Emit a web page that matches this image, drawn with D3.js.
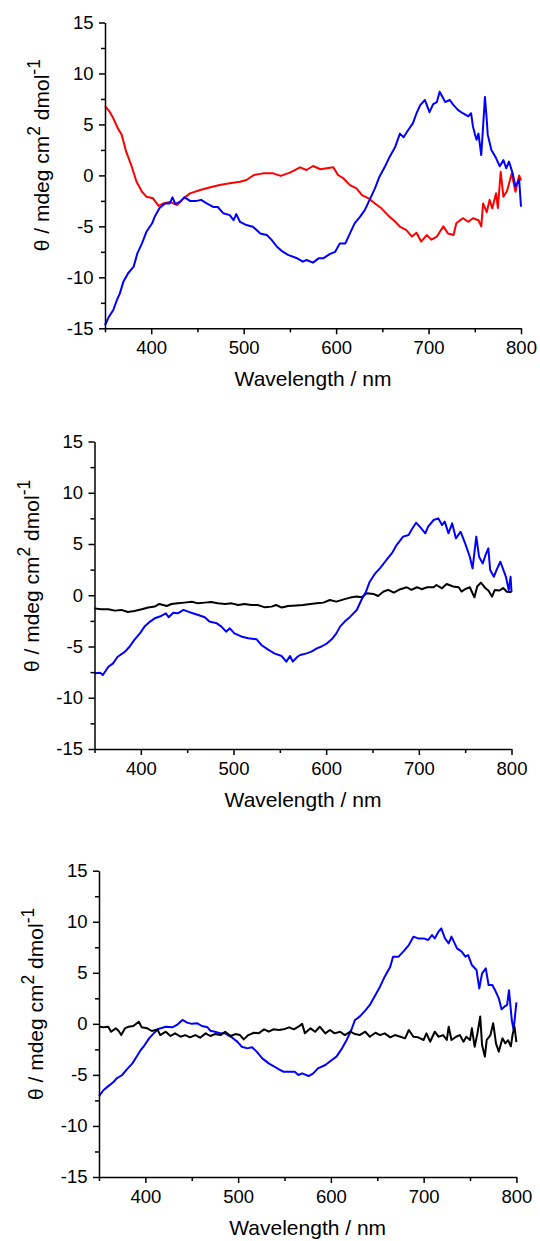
<!DOCTYPE html>
<html><head><meta charset="utf-8">
<script src="https://cdn.jsdelivr.net/npm/d3@7"></script>
<style>body{margin:0;background:#fff}svg{display:block}</style>
</head><body><svg id="c" width="540" height="1241"></svg>
<script>
// ---------- data ----------
const p1RedWl = [350,355,359,364,368,373,379,384,390,395,402,408,413,420,428,435,442,453,464,474,485,496,503,511,521,532,540,550,561,568,575,583,590,597,602,608,615,622,628,635,642,649,656,664,669,676,682,687,692,698,703,709,716,721,727,730,737,743,748,754,757,759,763,766,769,773,775,778,781,785,790,794,798,800];
const p1RedVal = [6.8,6.25,5.6,4.6,4.0,2.3,0.85,-0.6,-1.6,-2.1,-2.25,-3.0,-2.75,-2.6,-2.9,-2.25,-1.76,-1.43,-1.17,-0.95,-0.78,-0.62,-0.45,0.04,0.2,0.2,-0.05,0.27,0.79,0.53,0.92,0.6,0.7,0.79,0.04,-0.3,-0.95,-1.27,-1.93,-2.25,-2.75,-3.23,-3.9,-4.55,-5.03,-5.36,-6.0,-5.62,-6.5,-5.85,-6.3,-6.0,-5.0,-5.7,-5.85,-4.7,-4.2,-4.55,-4.2,-4.4,-5.0,-2.75,-3.6,-2.4,-3.23,-1.76,-3.2,0.36,-2.1,-1.5,0.2,-1.6,0.0,-0.5];

const p1BlueWl = [350,354,359,363,366,370,375,381,385,390,395,401,404,409,415,420,423,426,431,436,442,449,454,460,467,472,478,485,489,492,496,503,510,518,525,530,536,541,548,557,564,568,575,581,586,593,599,604,610,615,620,626,631,637,642,647,653,658,664,669,673,678,683,687,691,696,701,705,709,712,718,723,727,732,737,743,746,748,750,752,754,757,759,761,763,764,768,773,777,781,784,787,791,794,798,800];
const p1BlueVal = [-14.7,-13.9,-13.2,-12.2,-11.6,-10.4,-9.6,-8.95,-7.65,-6.67,-5.5,-4.7,-4.0,-3.2,-2.75,-2.75,-2.15,-2.8,-2.6,-2.15,-2.5,-2.5,-2.4,-2.75,-3.1,-3.1,-3.72,-3.9,-4.4,-3.8,-4.55,-4.87,-5.03,-5.7,-5.85,-6.3,-7.0,-7.4,-7.8,-8.1,-8.46,-8.3,-8.56,-8.14,-8.14,-7.72,-7.5,-6.67,-6.67,-5.69,-4.7,-4.05,-3.4,-2.25,-1.27,-0.1,0.9,1.84,2.82,4.1,3.74,4.45,5.1,6.1,6.9,7.4,6.2,7.0,7.2,8.2,7.2,7.4,6.9,6.4,6.1,5.8,6.1,4.8,4.1,3.5,4.1,2.0,4.8,7.7,5.4,4.0,2.5,1.7,0.9,1.5,0.7,1.35,0.2,-1.1,-0.4,-3.07];

const p2BlackWl = [350,357,365,372,379,386,393,401,408,415,420,428,433,440,447,455,462,469,476,483,491,498,505,512,519,526,534,541,546,552,559,568,575,583,590,597,604,611,619,626,633,638,644,651,656,662,667,673,680,687,692,698,703,709,716,719,725,730,737,743,746,750,755,760,763,767,772,775,779,782,787,791,795,800];
const p2BlackVal = [-1.28,-1.37,-1.37,-1.5,-1.43,-1.63,-1.53,-1.37,-1.2,-1.1,-0.85,-1.05,-0.85,-0.79,-0.72,-0.63,-0.79,-0.72,-0.66,-0.79,-0.85,-0.79,-0.95,-0.85,-0.95,-0.95,-1.18,-1.11,-0.95,-1.2,-1.05,-1.0,-0.95,-0.85,-0.79,-0.72,-0.46,-0.62,-0.4,-0.23,-0.13,-0.2,0.2,0.13,-0.07,0.36,0.52,0.26,0.59,0.78,0.52,0.78,0.59,0.78,0.78,1.0,0.68,1.1,0.85,0.78,0.36,0.59,0.78,-0.2,0.85,1.23,0.68,0.46,-0.13,0.52,0.46,0.7,0.35,0.3];

const p2BlueWl = [350,356,359,365,370,375,383,388,393,399,404,410,415,422,427,430,435,440,446,451,456,462,469,474,482,487,492,496,501,509,516,525,530,537,544,552,557,561,564,569,572,579,584,590,595,601,606,611,615,620,626,633,638,643,647,653,658,665,671,676,683,689,692,697,701,707,710,716,721,725,728,732,736,740,745,750,755,758,762,765,769,772,775,777,781,784,788,794,797,799,800];
const p2BlueVal = [-7.6,-7.55,-7.78,-6.97,-6.65,-6.0,-5.5,-5.0,-4.36,-3.72,-3.06,-2.57,-2.25,-2.02,-1.76,-2.15,-1.7,-1.76,-1.43,-1.6,-1.76,-1.93,-2.15,-2.57,-2.74,-3.06,-3.55,-3.23,-3.72,-4.04,-4.2,-4.3,-4.85,-5.28,-5.67,-5.93,-6.48,-5.93,-6.48,-6.0,-5.83,-5.67,-5.5,-5.18,-5.0,-4.69,-4.3,-3.72,-3.06,-2.57,-2.09,-1.44,-0.46,0.35,1.32,2.14,2.62,3.44,4.1,4.9,5.72,5.88,6.37,7.08,6.69,6.04,6.69,7.34,7.5,6.85,7.18,6.04,7.01,5.55,6.2,5.06,3.76,2.62,5.72,3.76,3.1,3.93,4.58,2.46,1.81,2.5,3.27,1.8,0.5,1.8,0.3];

const p3BlackWl = [350,355,360,363,368,371,374,378,382,387,393,396,402,407,413,416,422,427,432,438,443,448,454,459,465,470,475,481,486,492,497,502,506,511,517,522,528,533,538,544,549,555,560,565,569,572,578,583,588,594,599,604,610,615,621,626,631,637,642,648,653,658,664,669,675,680,684,689,694,700,703,707,712,716,721,725,727,730,735,739,743,746,750,752,755,758,761,763,766,768,772,775,778,781,785,788,791,794,796,798,800];
const p3BlackVal = [-0.28,-0.34,-0.28,-0.77,-0.44,-0.67,-1.1,-0.44,-0.28,-0.21,0.21,-0.34,-0.44,-0.7,-0.54,-1.1,-0.77,-1.19,-0.93,-1.26,-1.1,-1.32,-1.1,-1.36,-0.93,-1.19,-1.0,-1.1,-0.77,-1.19,-1.0,-1.1,-1.52,-1.1,-0.87,-0.93,-0.54,-0.77,-0.54,-0.6,-0.54,-0.34,-0.54,-0.28,0.0,-0.93,-0.44,-0.77,-0.28,-0.93,-0.6,-0.93,-0.77,-1.1,-0.77,-1.0,-1.1,-0.77,-1.26,-0.87,-1.1,-0.93,-1.32,-1.1,-1.26,-1.42,-0.6,-1.26,-1.32,-1.58,-0.93,-1.75,-0.77,-1.26,-1.1,-1.58,-0.28,-1.58,-1.26,-1.1,-1.75,-1.26,-1.58,-0.44,-2.24,-0.93,0.71,-2.07,-3.21,-1.58,-1.1,0.05,-1.91,-2.72,-1.42,-1.91,-1.6,-2.2,-1.0,-0.3,-1.8];

const p3BlueWl = [350,355,360,366,369,375,380,386,391,395,398,404,409,414,422,429,434,440,445,450,456,461,467,470,475,481,486,493,499,504,510,515,520,526,533,538,544,549,555,561,565,569,576,581,586,594,601,606,612,617,622,626,631,637,642,648,653,658,664,667,673,678,684,689,694,700,705,709,712,716,719,723,727,730,736,741,745,748,752,757,760,763,767,770,774,777,781,784,787,790,792,795,797,800];
const p3BlueVal = [-7.07,-6.48,-6.1,-5.67,-5.34,-5.01,-4.46,-3.87,-3.15,-2.56,-2.24,-1.42,-0.93,-0.5,-0.28,-0.34,-0.11,0.38,0.12,0.0,0.05,-0.21,-0.34,-0.67,-0.77,-0.93,-0.93,-1.32,-1.74,-2.24,-2.4,-2.3,-2.72,-3.38,-3.87,-4.13,-4.46,-4.69,-4.69,-4.69,-5.01,-4.85,-5.11,-4.85,-4.36,-4.03,-3.54,-3.21,-2.4,-1.58,-0.6,0.38,0.71,1.3,1.85,2.83,3.64,4.62,5.6,6.58,6.58,7.07,7.72,8.54,8.37,8.37,8.21,8.7,8.37,9.03,9.35,8.37,7.88,8.54,7.39,7.07,6.58,6.74,5.76,5.27,3.47,4.95,5.44,3.8,3.8,3.3,2.5,1.42,1.68,1.85,3.3,0.38,-0.6,2.1];

const xDomain = [350, 800];
const yDomain = [-15, 15];
const xTicks = [400, 500, 600, 700, 800];
const xMinorTicks = [350, 450, 550, 650, 750];
const yTicks = [-15, -10, -5, 0, 5, 10, 15];
const yMinorTicks = [-12.5, -7.5, -2.5, 2.5, 7.5, 12.5];
const xTitle = "Wavelength / nm";

// ---------- layout ----------
const FONT = "'Liberation Sans', Arial, Helvetica, sans-serif";
const panels = [
  {left:105, right:521, top:22.5, bottom:328.3,
   series:[{wl:p1RedWl, val:p1RedVal, color:"#ff0000"},{wl:p1BlueWl, val:p1BlueVal, color:"#0000ff"}]},
  {left:94.5, right:511.5, top:441.5, bottom:749,
   series:[{wl:p2BlackWl, val:p2BlackVal, color:"#000000"},{wl:p2BlueWl, val:p2BlueVal, color:"#0000ff"}]},
  {left:99, right:516.4, top:870.7, bottom:1177,
   series:[{wl:p3BlueWl, val:p3BlueVal, color:"#0000ff"},{wl:p3BlackWl, val:p3BlackVal, color:"#000000"}]}
];

const svg = d3.select("#c");
svg.append("rect").attr("width",540).attr("height",1241).attr("fill","#fff");

panels.forEach(p => {
  const x = d3.scaleLinear().domain(xDomain).range([p.left, p.right]);
  const y = d3.scaleLinear().domain(yDomain).range([p.bottom, p.top]);
  const g = svg.append("g");

  // curves
  const line = d3.line().x(d => x(d[0])).y(d => y(d[1]));
  p.series.forEach(s => {
    const pts = s.wl.map((w, i) => [w, s.val[i]]);
    g.append("path").datum(pts).attr("d", line)
      .attr("fill","none").attr("stroke", s.color)
      .attr("stroke-width", 2).attr("stroke-linejoin","round");
  });

  // minor ticks
  g.append("g").attr("transform", `translate(0,${p.bottom})`)
    .call(d3.axisBottom(x).tickValues(xMinorTicks).tickSize(4).tickFormat(""))
    .call(a => a.select(".domain").remove());
  g.append("g").attr("transform", `translate(${p.left},0)`)
    .call(d3.axisLeft(y).tickValues(yMinorTicks).tickSize(4).tickFormat(""))
    .call(a => a.select(".domain").remove());

  // major axes
  const xa = g.append("g").attr("transform", `translate(0,${p.bottom})`)
    .call(d3.axisBottom(x).tickValues(xTicks).tickSize(6).tickSizeOuter(0).tickPadding(6.5).tickFormat(d => String(d)));
  const ya = g.append("g").attr("transform", `translate(${p.left},0)`)
    .call(d3.axisLeft(y).tickValues(yTicks).tickSize(6).tickSizeOuter(0).tickPadding(5.5).tickFormat(d => String(d)));
  [xa, ya].forEach(a => {
    a.selectAll("path,line").attr("stroke","#000").attr("stroke-width",1.5);
    a.selectAll("text").attr("font-family", FONT).attr("font-size", 18.5).attr("fill","#000");
  });
  g.selectAll("line").attr("stroke","#000").attr("stroke-width",1.5);

  // x title
  g.append("text").attr("x", (p.left + p.right)/2).attr("y", p.bottom + 58)
    .attr("text-anchor","middle").attr("font-family", FONT).attr("font-size", 21)
    .attr("fill","#000").text(xTitle);

  // y title
  const bx = p.left - 56, by = p.bottom - 77;
  const t = g.append("text").attr("transform", `translate(${bx},${by}) rotate(-90)`)
    .attr("text-anchor","start").attr("font-family", FONT).attr("font-size", 21).attr("fill","#000");
  t.append("tspan").text("\u03b8 / mdeg cm");
  t.append("tspan").attr("dy", -9).attr("font-size", 17.5).text("2");
  t.append("tspan").attr("dy", 9).text(" dmol");
  t.append("tspan").attr("dy", -9).attr("font-size", 17.5).text("-1");
});
</script></body></html>
